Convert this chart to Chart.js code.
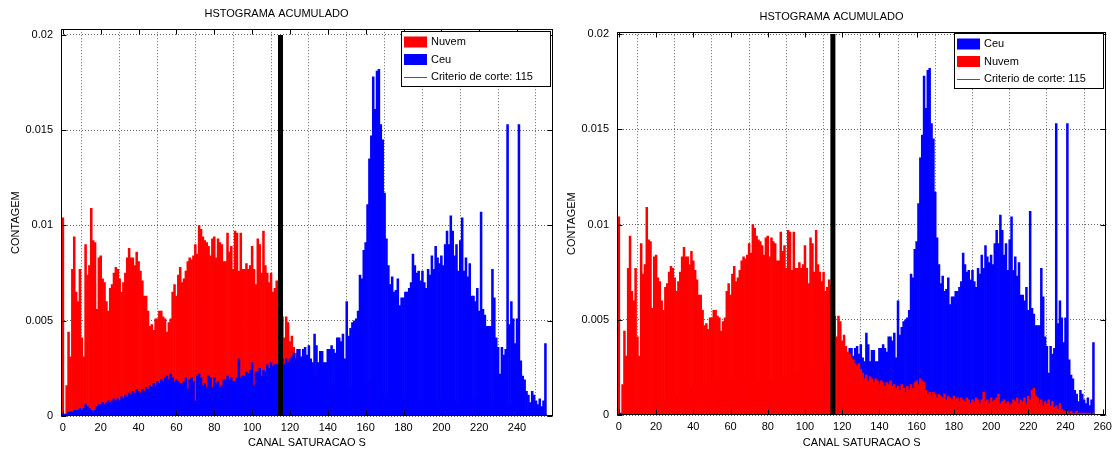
<!DOCTYPE html>
<html lang="pt">
<head>
<meta charset="UTF-8" />
<title>Histograma acumulado</title>
<script src="https://cdn.jsdelivr.net/npm/chart.js@4.4.0/dist/chart.umd.min.js"></script>
<style>
  body { margin: 0; background: #fff; }
  .wrap { position: relative; width: 1117px; height: 457px; }
  #chartLeft { position: absolute; left: 0; top: 0; }
  #chartRight { position: absolute; left: 556px; top: 0; }
</style>
</head>
<body>
<div class="wrap">
  <canvas id="chartLeft" width="558" height="457"></canvas>
  <canvas id="chartRight" width="561" height="457"></canvas>
</div>
<script>
// canal S: 0..255
const canal = Array.from({ length: 256 }, (_, i) => i);

const nuvem = [
  0.0104, 0.0000, 0.0016, 0.0044, 0.0031, 0.0077, 0.0094, 0.0065, 0.0060, 0.0077,
  0.0041, 0.0031, 0.0090, 0.0074, 0.0079, 0.0109, 0.0092, 0.0091, 0.0056, 0.0083,
  0.0084, 0.0072, 0.0070, 0.0060, 0.0055, 0.0067, 0.0069, 0.0075, 0.0078, 0.0077,
  0.0072, 0.0065, 0.0070, 0.0075, 0.0083, 0.0088, 0.0083, 0.0083, 0.0079, 0.0086,
  0.0081, 0.0076, 0.0071, 0.0063, 0.0063, 0.0055, 0.0047, 0.0048, 0.0045, 0.0051,
  0.0051, 0.0055, 0.0055, 0.0052, 0.0051, 0.0044, 0.0049, 0.0051, 0.0065, 0.0069,
  0.0063, 0.0074, 0.0078, 0.0070, 0.0072, 0.0076, 0.0081, 0.0083, 0.0082, 0.0084,
  0.0090, 0.0085, 0.0100, 0.0098, 0.0094, 0.0092, 0.0091, 0.0089, 0.0084, 0.0093,
  0.0094, 0.0083, 0.0093, 0.0091, 0.0090, 0.0081, 0.0081, 0.0096, 0.0086, 0.0089,
  0.0077, 0.0097, 0.0096, 0.0076, 0.0096, 0.0077, 0.0077, 0.0080, 0.0077, 0.0079,
  0.0089, 0.0077, 0.0069, 0.0093, 0.0090, 0.0075, 0.0097, 0.0079, 0.0075, 0.0070,
  0.0075, 0.0065, 0.0067, 0.0071, 0.0068, 0.0058, 0.0052, 0.0041, 0.0052, 0.0049,
  0.0039, 0.0042, 0.0036, 0.0033, 0.0032, 0.0030, 0.0029, 0.0027, 0.0026, 0.0027,
  0.0024, 0.0022, 0.0019, 0.0021, 0.0018, 0.0020, 0.0019, 0.0017, 0.0019, 0.0018,
  0.0016, 0.0018, 0.0017, 0.0015, 0.0017, 0.0016, 0.0018, 0.0015, 0.0016, 0.0014,
  0.0015, 0.0013, 0.0016, 0.0014, 0.0012, 0.0015, 0.0013, 0.0016, 0.0014, 0.0017,
  0.0018, 0.0016, 0.0019, 0.0018, 0.0017, 0.0013, 0.0011, 0.0012, 0.0010, 0.0012,
  0.0011, 0.0009, 0.0011, 0.0010, 0.0009, 0.0011, 0.0008, 0.0010, 0.0009, 0.0008,
  0.0010, 0.0008, 0.0009, 0.0007, 0.0009, 0.0008, 0.0007, 0.0009, 0.0008, 0.0006,
  0.0008, 0.0007, 0.0009, 0.0008, 0.0006, 0.0008, 0.0012, 0.0007, 0.0008, 0.0006,
  0.0009, 0.0007, 0.0008, 0.0009, 0.0011, 0.0006, 0.0007, 0.0008, 0.0006, 0.0007,
  0.0005, 0.0006, 0.0008, 0.0007, 0.0009, 0.0006, 0.0008, 0.0007, 0.0009, 0.0006,
  0.0010, 0.0008, 0.0013, 0.0014, 0.0010, 0.0009, 0.0006, 0.0008, 0.0005, 0.0007,
  0.0006, 0.0008, 0.0005, 0.0007, 0.0004, 0.0005, 0.0003, 0.0006, 0.0003, 0.0002,
  0.0002, 0.0002, 0.0001, 0.0002, 0.0001, 0.0001, 0.0002, 0.0001, 0.0001, 0.0001,
  0.0001, 0.0001, 0.0001, 0.0001, 0.0000, 0.0001
];

const ceu = [
  0.0001, 0.0001, 0.0001, 0.0002, 0.0002, 0.0002, 0.0003, 0.0003, 0.0003, 0.0004,
  0.0003, 0.0004, 0.0006, 0.0005, 0.0004, 0.0003, 0.0002, 0.0003, 0.0005, 0.0006,
  0.0006, 0.0007, 0.0006, 0.0007, 0.0008, 0.0007, 0.0008, 0.0009, 0.0008, 0.0009,
  0.0008, 0.0010, 0.0009, 0.0011, 0.0010, 0.0012, 0.0011, 0.0013, 0.0012, 0.0014,
  0.0013, 0.0012, 0.0014, 0.0013, 0.0015, 0.0014, 0.0016, 0.0015, 0.0017, 0.0016,
  0.0018, 0.0017, 0.0019, 0.0018, 0.0020, 0.0021, 0.0019, 0.0022, 0.0020, 0.0018,
  0.0019, 0.0018, 0.0017, 0.0017, 0.0018, 0.0020, 0.0014, 0.0019, 0.0020, 0.0018,
  0.0008, 0.0021, 0.0022, 0.0020, 0.0016, 0.0017, 0.0015, 0.0021, 0.0020, 0.0015,
  0.0020, 0.0017, 0.0018, 0.0015, 0.0016, 0.0019, 0.0019, 0.0021, 0.0019, 0.0020,
  0.0018, 0.0018, 0.0020, 0.0030, 0.0020, 0.0021, 0.0021, 0.0023, 0.0022, 0.0024,
  0.0028, 0.0016, 0.0023, 0.0023, 0.0025, 0.0021, 0.0024, 0.0023, 0.0027, 0.0025,
  0.0028, 0.0026, 0.0027, 0.0027, 0.0027, 0.0027, 0.0030, 0.0027, 0.0030, 0.0028,
  0.0030, 0.0031, 0.0033, 0.0030, 0.0035, 0.0035, 0.0031, 0.0035, 0.0036, 0.0032,
  0.0037, 0.0030, 0.0028, 0.0043, 0.0037, 0.0028, 0.0034, 0.0034, 0.0028, 0.0028,
  0.0035, 0.0035, 0.0037, 0.0035, 0.0033, 0.0041, 0.0041, 0.0039, 0.0043, 0.0030,
  0.0060, 0.0042, 0.0046, 0.0049, 0.0050, 0.0051, 0.0055, 0.0074, 0.0072, 0.0087,
  0.0091, 0.0111, 0.0135, 0.0147, 0.0178, 0.0161, 0.0181, 0.0182, 0.0153, 0.0145,
  0.0117, 0.0093, 0.0079, 0.0069, 0.0073, 0.0065, 0.0066, 0.0072, 0.0058, 0.0062,
  0.0062, 0.0065, 0.0065, 0.0067, 0.0070, 0.0085, 0.0079, 0.0075, 0.0076, 0.0071,
  0.0076, 0.0070, 0.0067, 0.0077, 0.0074, 0.0084, 0.0077, 0.0089, 0.0083, 0.0080,
  0.0084, 0.0079, 0.0090, 0.0097, 0.0090, 0.0105, 0.0097, 0.0084, 0.0090, 0.0076,
  0.0092, 0.0104, 0.0076, 0.0083, 0.0073, 0.0080, 0.0063, 0.0063, 0.0060, 0.0067,
  0.0055, 0.0107, 0.0056, 0.0053, 0.0047, 0.0047, 0.0047, 0.0077, 0.0062, 0.0041,
  0.0036, 0.0022, 0.0036, 0.0032, 0.0035, 0.0153, 0.0048, 0.0060, 0.0051, 0.0038,
  0.0051, 0.0153, 0.0029, 0.0021, 0.0019, 0.0013, 0.0011, 0.0007, 0.0013, 0.0011,
  0.0008, 0.0006, 0.0009, 0.0005, 0.0008, 0.0038
];

const corte = 115;
const corteTopo = 0.02;
const corteLabel = 'Criterio de corte: 115';

const xTicksLeft = [0, 20, 40, 60, 80, 100, 120, 140, 160, 180, 200, 220, 240];
const xTicksRight = [0, 20, 40, 60, 80, 100, 120, 140, 160, 180, 200, 220, 240, 260];
const yTicks = [0, 0.005, 0.01, 0.015, 0.02];
const yTickLabels = ['0', '0.005', '0.01', '0.015', '0.02'];

const FONT = "'Liberation Sans', Arial, Helvetica, sans-serif";
Chart.defaults.font.family = FONT;
Chart.defaults.font.size = 11;
Chart.defaults.color = '#000';

// caixa dos eixos com marcas para dentro (estilo matlab)
const axesBox = {
  id: 'axesBox',
  afterDraw(chart, args, opts) {
    const { ctx, chartArea: a, scales } = chart;
    const L = Math.round(a.left) + 0.5, R = Math.round(a.right) - 0.5;
    const T = Math.round(a.top) + 0.5, B = Math.round(a.bottom) - 0.5;
    ctx.save();
    ctx.strokeStyle = '#000';
    ctx.lineWidth = 1;
    ctx.strokeRect(L, T, R - L, B - T);
    ctx.beginPath();
    opts.xTicks.forEach(v => {
      const x = Math.round(scales.x.getPixelForValue(v)) + 0.5;
      ctx.moveTo(x, B); ctx.lineTo(x, B - 5);
      ctx.moveTo(x, T); ctx.lineTo(x, T + 5);
    });
    yTicks.forEach(v => {
      const y = Math.round(scales.y.getPixelForValue(v)) + 0.5;
      ctx.moveTo(L, y); ctx.lineTo(L + 5, y);
      ctx.moveTo(R, y); ctx.lineTo(R - 5, y);
    });
    ctx.stroke();
    ctx.restore();
  }
};

// legenda dentro do grafico, canto superior direito
const legendBox = {
  id: 'legendBox',
  afterDraw(chart, args, opts) {
    const { ctx, chartArea: a } = chart;
    const w = 149, h = 55;
    const x0 = Math.round(a.right - 3 - w), y0 = Math.round(a.top + opts.top);
    ctx.save();
    ctx.fillStyle = '#fff';
    ctx.fillRect(x0, y0, w, h);
    ctx.strokeStyle = '#000';
    ctx.lineWidth = 1;
    ctx.strokeRect(x0 + 0.5, y0 + 0.5, w, h);
    ctx.font = '11px ' + FONT;
    ctx.textBaseline = 'middle';
    opts.order.forEach((label, i) => {
      const ds = chart.data.datasets.find(d => d.label === label);
      const cy = y0 + 11 + i * 17.5;
      if (ds.type === 'bar') {
        ctx.fillStyle = ds.backgroundColor;
        ctx.fillRect(x0 + 3, cy - 5.5, 23, 11);
      } else {
        ctx.strokeStyle = '#555';
        ctx.beginPath();
        ctx.moveTo(x0 + 3, Math.round(cy) + 0.5);
        ctx.lineTo(x0 + 26, Math.round(cy) + 0.5);
        ctx.stroke();
      }
      ctx.fillStyle = '#000';
      ctx.fillText(label, x0 + 30, cy);
    });
    ctx.restore();
  }
};

function makeChart(id, cfg) {
  const barOpts = { type: 'bar', grouped: false, barPercentage: 1, categoryPercentage: 1, borderWidth: 0 };
  const gridOpts = { color: 'rgba(0,0,0,0.6)', lineWidth: 1, drawTicks: false };
  return new Chart(document.getElementById(id), {
    type: 'bar',
    data: {
      datasets: [
        {
          type: 'line',
          label: corteLabel,
          data: [{ x: corte, y: 0 }, { x: corte, y: corteTopo }],
          borderColor: '#000',
          borderWidth: 5,
          pointRadius: 0,
          order: 0,
        },
        Object.assign({}, barOpts, {
          label: 'Nuvem',
          data: canal.map((c, i) => ({ x: c, y: nuvem[i] })),
          backgroundColor: '#ff0000',
          order: cfg.nuvemOrder,
        }),
        Object.assign({}, barOpts, {
          label: 'Ceu',
          data: canal.map((c, i) => ({ x: c, y: ceu[i] })),
          backgroundColor: '#0000ff',
          order: cfg.ceuOrder,
        }),
      ],
    },
    options: {
      responsive: false,
      animation: false,
      layout: { padding: { left: 0, right: cfg.padRight, top: 0, bottom: 0 } },
      plugins: {
        legend: { display: false },
        tooltip: { enabled: false },
        title: {
          display: true,
          text: 'HSTOGRAMA ACUMULADO',
          color: '#000',
          font: { size: 11, weight: 'normal' },
          padding: { top: cfg.titleTop, bottom: 9 },
        },
        axesBox: { xTicks: cfg.xTicks },
        legendBox: { order: cfg.legendOrder, top: cfg.legendTop },
      },
      scales: {
        x: {
          type: 'linear',
          min: -1,
          max: cfg.xMax,
          offset: false,
          grid: gridOpts,
          border: { display: false, dash: [1, 2] },
          ticks: { padding: 5, autoSkip: false, maxRotation: 0, callback: v => String(v) },
          afterBuildTicks: axis => { axis.ticks = cfg.xTicks.map(v => ({ value: v })); },
          afterFit: axis => { axis.height = cfg.xHeight; },
          title: { display: true, text: 'CANAL SATURACAO S', padding: { top: 0, bottom: 7 } },
        },
        y: {
          type: 'linear',
          min: 0,
          max: cfg.yMax,
          grid: gridOpts,
          border: { display: false, dash: [1, 2] },
          ticks: { padding: 8, callback: v => yTickLabels[yTicks.indexOf(v)] },
          afterBuildTicks: axis => { axis.ticks = yTicks.map(v => ({ value: v })); },
          afterFit: axis => { axis.width = 61; },
          title: { display: true, text: 'CONTAGEM', padding: { top: 9, bottom: 0 } },
        },
      },
    },
    plugins: [axesBox, legendBox],
  });
}

makeChart('chartLeft', {
  xMax: 259, xTicks: xTicksLeft, yMax: 0.0203, padRight: 5, titleTop: 7, xHeight: 41,
  nuvemOrder: 2, ceuOrder: 1, legendOrder: ['Nuvem', 'Ceu', corteLabel], legendTop: 2,
});

makeChart('chartRight', {
  xMax: 262, xTicks: xTicksRight, yMax: 0.0201, padRight: 10, titleTop: 10, xHeight: 42,
  nuvemOrder: 1, ceuOrder: 2, legendOrder: ['Ceu', 'Nuvem', corteLabel], legendTop: 1,
});
</script>
</body>
</html>
